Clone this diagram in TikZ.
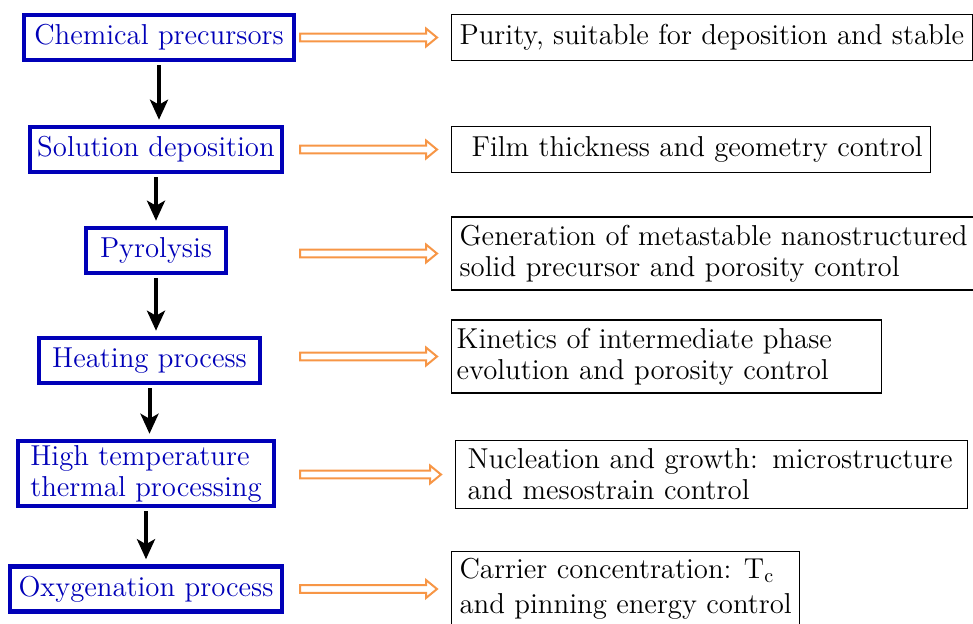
\documentclass[tikz,border=0pt]{standalone}
\usetikzlibrary{arrows.meta,positioning,calc}
\definecolor{procblue}{HTML}{0000B8}
\definecolor{arroworange}{HTML}{F79646}

\begin{document}
\begin{tikzpicture}[
  x=0.5pt, y=-0.5pt,
  font=\fontsize{14.4}{15.5}\selectfont,
  >={Stealth[length=10pt,width=9pt,inset=2.5pt]},
  stage/.style={
    draw=procblue,
    fill=white,
    line width=2.3pt,
    text=procblue,
    align=center,
    inner sep=2pt,
    minimum height=22.5pt
  },
  effect/.style={
    draw=black,
    line width=0.6pt,
    align=left,
    inner xsep=4pt,
    inner ysep=4pt,
    minimum height=23pt,
    anchor=west
  },
  flow/.style={->, line width=2pt, shorten <=1.5pt, shorten >=2.5pt},
  hollow/.style={
    draw=arroworange, line width=1pt, fill=white,
    to path={let \p1=(\tikztostart), \p2=(\tikztotarget) in
      (\x1,\y1+1.9pt) -- (\x2-12.5pt,\y1+1.9pt) -- (\x2-12.5pt,\y1+4.5pt)
      -- (\x2-7pt,\y1) -- (\x2-12.5pt,\y1-4.5pt) -- (\x2-12.5pt,\y1-1.9pt)
      -- (\x1,\y1-1.9pt) -- cycle}
  }
]
  \useasboundingbox (0,0) rectangle (973,623);
  \clip (0,0) rectangle (973,623);

  % columns for the effect boxes and the orange arrows
  \coordinate (rcol) at (451,0);
  \coordinate (acol) at (300,0);

  % --- process steps (left column) ---
  \node[stage, minimum width=135pt] (chem) at (159,37.5) {Chemical precursors};
  \node[stage, minimum width=126pt] (sol) at (156,149.5) {Solution deposition};
  \node[stage, minimum width=70pt] (pyro) at (156,250.5) {Pyrolysis};
  \node[stage, minimum width=110.5pt] (heat) at (149.5,360.5) {Heating process};
  \node[stage, minimum width=128pt, align=left] (high) at (146,473.5) {High temperature\\thermal processing};
  \node[stage, minimum width=136pt] (oxy) at (146,589) {Oxygenation process};

  % --- what each step controls (right column) ---
  \node[effect] (purity) at (chem -| rcol) {Purity, suitable for deposition and stable};
  \node[effect] (film) at (sol -| rcol) {\hspace*{6pt}Film thickness and geometry control};
  \node[effect, text width=270pt] (meta) at ($(pyro -| rcol)+(0,3)$) {Generation of metastable nanostructured\\solid precursor and porosity control};
  \node[effect, text width=210pt, inner xsep=2.5pt] (kin) at ($(heat -| rcol)+(0,-4)$) {Kinetics of intermediate phase\\evolution and porosity control};
  \node[effect, text width=244pt, inner xsep=6pt] (nucl) at ($(high -| rcol)+(4,1)$) {Nucleation and growth: microstructure\\and mesostrain control};
  \node[effect, anchor=north west, inner ysep=3pt] (carrier) at ($(oxy.north -| rcol)+(0,-13)$) {Carrier concentration: T$_{\mathrm{c}}$\\[2pt]and pinning energy control};

  % Process flow
  \draw[flow] (chem.south) -- (chem.south |- sol.north);
  \draw[flow] (sol.south) -- (sol.south |- pyro.north);
  \draw[flow] (pyro.south) -- (pyro.south |- heat.north);
  \draw[flow] (heat.south) -- (heat.south |- high.north);
  \draw[flow] (high.south) -- (high.south |- oxy.north);

  % Hollow orange arrows to the effects
  \draw[hollow] (chem -| acol) to (purity.west);
  \draw[hollow] (sol -| acol) to (film.west);
  \draw[hollow] (meta -| acol) to (meta.west);
  \draw[hollow] (kin -| acol) to (kin.west);
  \draw[hollow] (nucl -| acol) to (nucl.west);
  \draw[hollow] (oxy -| acol) to (carrier.west |- oxy);

\end{tikzpicture}
\end{document}
